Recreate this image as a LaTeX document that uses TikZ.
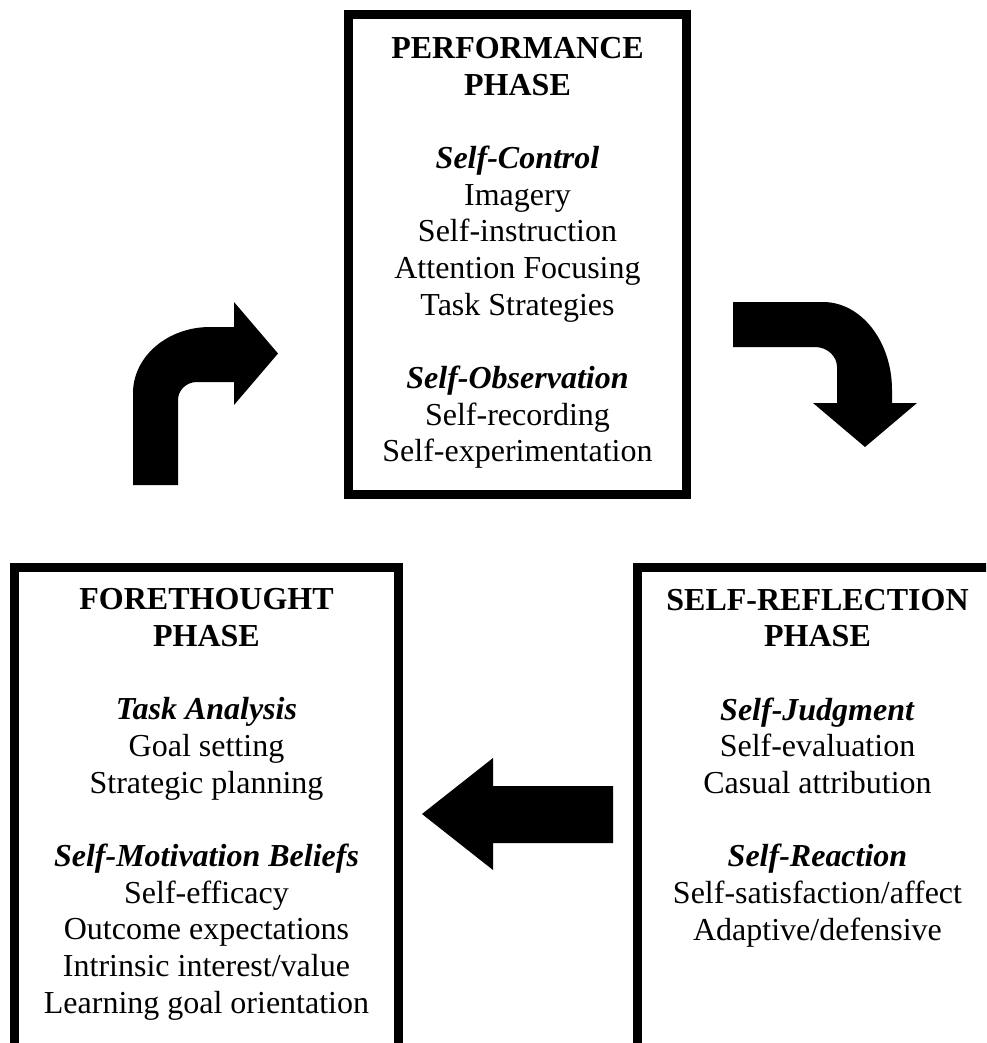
\documentclass[tikz,border=0pt]{standalone}
\usepackage{fontspec}
\setmainfont{Liberation Serif}
\usepackage{tikz}
\tikzset{
  phasebox/.style = {line width = 6.75pt},
  phasetext/.style = {anchor = base, align = center, inner sep = 0pt, font = \fontsize{24}{27.5}\selectfont},
  blockarrow/.style = {fill = black, draw = none}
}
\newcommand{\phasehead}[1]{\textbf{#1}}
\newcommand{\phasesub}[1]{\textbf{\textit{#1}}}

\begin{document}
\begin{tikzpicture}[x = 0.75pt, y = -0.75pt]
\clip (0,0) rectangle (986,1043);

% the three phases
\draw[phasebox] (348.5,14.5) rectangle (686.5,494.5);
\draw[phasebox] (14.5,567.5) rectangle (398.5,1070);
\draw[phasebox] (637.5,567.5) rectangle (1000,1070);

% base = last line of each list
\node[phasetext] (perf) at (517.5,461.7) {\phasehead{PERFORMANCE}\\ \phasehead{PHASE}\\[27.5pt]
  \phasesub{Self-Control}\\ Imagery\\ Self-instruction\\ Attention Focusing\\ Task Strategies\\[27.5pt]
  \phasesub{Self-Observation}\\ Self-recording\\ Self-experimentation};

\node[phasetext] (fore) at (206.5,1013) {\phasehead{FORETHOUGHT}\\ \phasehead{PHASE}\\[27.5pt]
  \phasesub{Task Analysis}\\ Goal setting\\ Strategic planning\\[27.5pt]
  \phasesub{Self-Motivation Beliefs}\\ Self-efficacy\\ Outcome expectations\\ Intrinsic interest/value\\ Learning goal orientation};

\node[phasetext] (refl) at (817.5,940) {\phasehead{SELF-REFLECTION}\\ \phasehead{PHASE}\\[27.5pt]
  \phasesub{Self-Judgment}\\ Self-evaluation\\ Casual attribution\\[27.5pt]
  \phasesub{Self-Reaction}\\ Self-satisfaction/affect\\ Adaptive/defensive};

% block arrows of the cycle
\fill[blockarrow] (133,485) -- (133,393) .. controls (133,356.6) and (167.5,327) .. (210,327) -- (234,327) -- (234,302) -- (278,353.5) -- (234,405) -- (234,382) -- (197,382) .. controls (186.5,382) and (178,390) .. (178,400) -- (178,485) -- cycle;

\fill[blockarrow] (733,302) -- (823,302) .. controls (861.1,302) and (892,341.4) .. (892,390) -- (892,403) -- (917,403) -- (865,447) -- (813,403) -- (837,403) -- (837,367) .. controls (837,356) and (827.1,347) .. (815,347) -- (733,347) -- cycle;

\fill[blockarrow] (613,786) -- (493,786) -- (493,758) -- (422,814) -- (493,870) -- (493,843) -- (613,843) -- cycle;

\end{tikzpicture}
\end{document}
